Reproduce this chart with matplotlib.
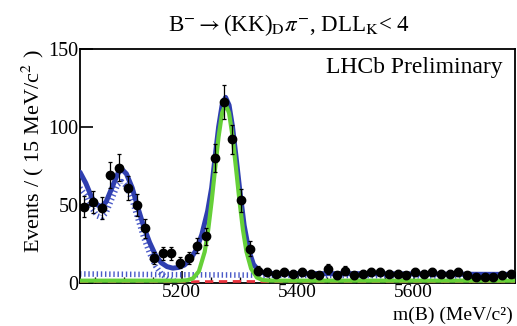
import numpy as np
import matplotlib
matplotlib.use('Agg')
import matplotlib.pyplot as plt

plt.rcParams['font.family'] = ['Liberation Serif', 'DejaVu Serif']
plt.rcParams['mathtext.fontset'] = 'stix'

# binned data (15 MeV bins, 5025 - 5775)
bin_lo = 5025
bin_w = 15
counts = [49, 52, 48, 69, 74, 61, 50, 35, 16, 19,
          19, 13, 16, 24, 30, 80, 116, 92, 53, 22,
          8, 7, 6, 7, 6, 7, 6, 5, 9, 5,
          8, 5, 6, 7, 7, 6, 6, 5, 7, 6,
          7, 6, 6, 7, 5, 4, 4, 4, 5, 6]

# total fit (blue solid)
tot_m = [5025, 5035, 5045, 5055, 5062, 5070, 5080, 5090, 5097, 5105,
         5115, 5125, 5135, 5145, 5155, 5165, 5175, 5185, 5195, 5205,
         5215, 5225, 5235, 5245, 5252, 5258, 5264, 5270, 5276, 5282,
         5288, 5294, 5300, 5308, 5316, 5324, 5332, 5340, 5350, 5360,
         5400, 5500, 5600, 5700, 5775]
tot_y = [71, 64, 55, 50, 49, 52, 61, 70, 73, 70,
         61, 48, 36, 26, 18, 13, 10.5, 9.5, 10, 11.5,
         15, 21, 31, 46, 61, 81, 100, 114, 119, 114,
         100, 81, 61, 37, 21, 12, 8.3, 6.7, 6.2, 6,
         6, 6, 5.8, 5.6, 5.5]

# partially reconstructed background (blue dotted)
prt_m = [5025, 5035, 5045, 5055, 5062, 5070, 5080, 5090, 5097, 5105,
         5115, 5125, 5135, 5145, 5155, 5165, 5175, 5185, 5195, 5205, 5215]
prt_y = [61, 56, 48, 43, 42, 45, 54, 63, 65, 62,
         53, 41, 29, 19, 11, 6, 3, 1.5, 0.7, 0.3, 0]

# combinatorial (blue dotted, flat)
cmb_m = [5025, 5200, 5400, 5600, 5775]
cmb_y = [5.8, 5.3, 4.9, 4.6, 4.4]

# misID (red dashed)
mis_m = [5025, 5200, 5300, 5400, 5775]
mis_y = [0.7, 0.8, 1.0, 0.8, 0.6]

# signal (green)
sig_m = [5025, 5190, 5200, 5210, 5220, 5230, 5240, 5246, 5252, 5258,
         5264, 5270, 5276, 5282, 5288, 5294, 5300, 5306, 5312, 5320,
         5330, 5340, 5350, 5370, 5775]
sig_y = [1.5, 1.5, 1.5, 1.8, 3, 7.5, 20, 34, 52.5, 73.5,
         94, 109, 114.5, 109, 94, 73.5, 52.5, 34, 20, 9.2,
         3.5, 1.9, 1.6, 1.5, 1.5]

blue = '#2f3fb0'
blue_d = '#4a5ac8'
green = '#66d038'
red = '#e8323c'

fig = plt.figure(figsize=(5.17, 3.26), dpi=100)
ax = fig.add_axes([80/517, 1-283/326, 435/517, 234/326])

centers = bin_lo + bin_w/2 + bin_w*np.arange(len(counts))
counts = np.array(counts, dtype=float)

ax.plot(cmb_m, cmb_y, color=blue_d, lw=4.0, ls=(0, (0.25, 0.5)), zorder=2)
ax.plot(prt_m, prt_y, color=blue_d, lw=4.0, ls=(0, (0.25, 0.5)), zorder=2)
ax.plot(mis_m, mis_y, color=red, lw=2.0, ls=(0, (3, 2)), zorder=3)
ax.plot(tot_m, tot_y, color=blue, lw=3.6, zorder=4, solid_capstyle='round')
ax.plot(sig_m, sig_y, color=green, lw=3.0, zorder=5)
ax.errorbar(centers, counts, yerr=np.sqrt(counts), fmt='o', color='black',
            ms=6, elinewidth=0.9, capsize=1.2, capthick=0.9, zorder=6)

ax.set_xlim(5025, 5775)
ax.set_ylim(0, 150)
ax.set_xticks([5200, 5400, 5600])
ax.set_xticks(np.arange(5050, 5776, 50), minor=True)
ax.set_yticks([0, 50, 100, 150])
ax.tick_params(axis='both', which='major', direction='in', length=9, width=1.2,
               labelsize=14.5, pad=1)
ax.tick_params(axis='x', labelsize=14, pad=0.5)
ax.tick_params(axis='x', which='minor', direction='in', length=4, width=1.0)
ax.tick_params(top=False, right=False)
for s in ax.spines.values():
    s.set_linewidth(1.3)

ax.set_ylabel(r'Events / ( 15 MeV/c$^{2}$ )', fontsize=16, loc='top', labelpad=2)
fig.text(513/517, 1-320/326, 'm(B) (MeV/c²)', fontsize=14,
         ha='right', va='baseline')

ax.text(0.972, 0.919, 'LHCb Preliminary', transform=ax.transAxes,
        ha='right', va='center', fontsize=17)
fig.text(289/517, 1-25/326,
         r'B$^{-}$$\rightarrow$(KK)$_{\mathrm{D}}$$\pi^{-}$, DLL$_{\mathrm{K}}$< 4',
         ha='center', va='center', fontsize=16.5)

fig.savefig('out.png', dpi=100)
